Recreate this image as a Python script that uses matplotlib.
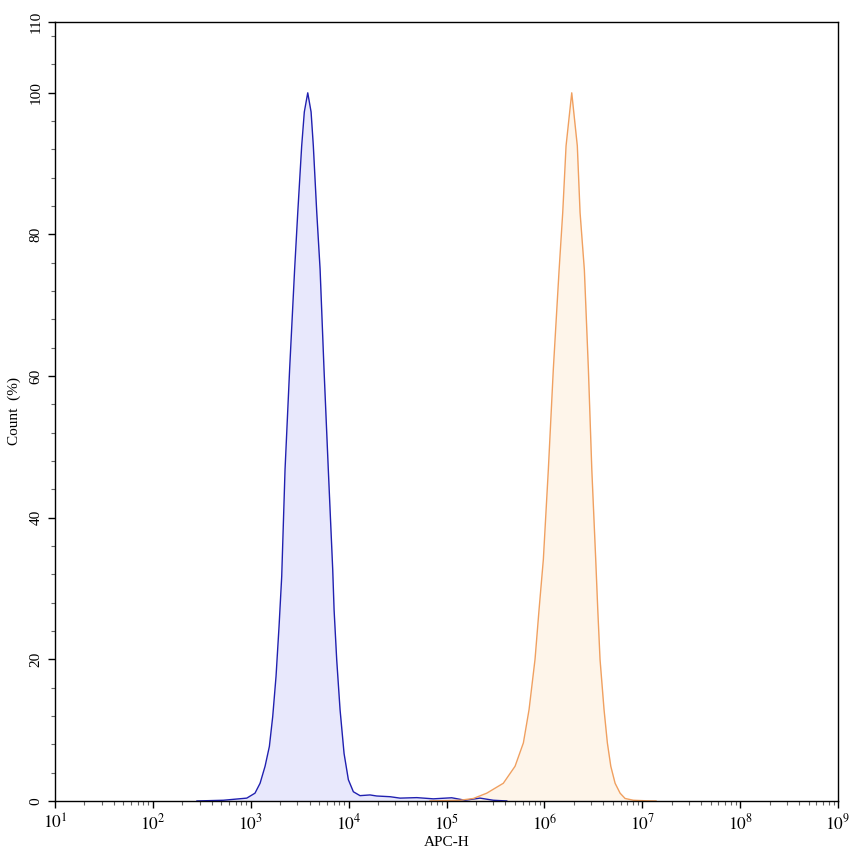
import matplotlib
matplotlib.use('Agg')
import matplotlib.pyplot as plt
import numpy as np
from matplotlib.ticker import LogLocator, MultipleLocator, FixedLocator

plt.rcParams['font.family'] = ['Liberation Serif', 'DejaVu Serif']
plt.rcParams['mathtext.fontset'] = 'stix'

## blue histogram (log10 of APC-H, count %)
blue_log = [2.45, 2.72, 2.959, 3.043, 3.095, 3.146, 3.19, 3.224, 3.258, 3.289,
            3.316, 3.35, 3.397, 3.448, 3.48, 3.52, 3.547, 3.582, 3.616, 3.639,
            3.674, 3.708, 3.748, 3.792, 3.837, 3.851, 3.878, 3.912, 3.953, 3.997,
            4.048, 4.116, 4.218, 4.287, 4.423, 4.525, 4.696, 4.865, 5.053, 5.189,
            5.342, 5.478, 5.615]
blue_cnt = [0, 0.1, 0.4, 1.1, 2.5, 4.9, 7.7, 11.9, 17.6, 24.7,
            31.7, 46.8, 61, 75.1, 83.1, 92.5, 97.3, 100, 97.3, 92.5,
            83.1, 75.1, 61, 46.8, 32.7, 27, 19.9, 12.9, 6.7, 3.0,
            1.3, 0.75, 0.85, 0.7, 0.6, 0.4, 0.47, 0.3, 0.45, 0.1,
            0.4, 0.1, 0]

## orange histogram
orange_log = [4.831, 5.138, 5.274, 5.411, 5.58, 5.7, 5.785, 5.843, 5.904, 5.945,
              5.989, 6.04, 6.091, 6.15, 6.187, 6.221, 6.279, 6.336, 6.364, 6.408,
              6.449, 6.484, 6.524, 6.545, 6.568, 6.609, 6.643, 6.678, 6.722, 6.773,
              6.824, 6.909, 7.05, 7.14]
orange_cnt = [0, 0.1, 0.35, 1.1, 2.5, 4.9, 8.2, 12.9, 20, 27,
              34.1, 46.8, 61, 75, 83.1, 92.5, 100, 92.5, 83.1, 75,
              61, 46.8, 34.1, 27, 20, 12.9, 8.2, 4.9, 2.5, 1.1,
              0.35, 0.1, 0.02, 0]

y_major = [0, 20, 40, 60, 80, 100, 110]

fig = plt.figure(figsize=(8.53, 8.56), dpi=100)
ax = fig.add_axes([0.0645, 0.0643, 0.918, 0.910])

bx = 10 ** np.array(blue_log)
ox = 10 ** np.array(orange_log)
ax.fill_between(bx, blue_cnt, 0, color='#e8e8fc', lw=0)
ax.plot(bx, blue_cnt, color='#2020b0', lw=1.0)
ax.fill_between(ox, orange_cnt, 0, color='#fef5ea', lw=0)
ax.plot(ox, orange_cnt, color='#f0a060', lw=1.0)

ax.set_xscale('log')
ax.set_xlim(1e1, 1e9)
ax.set_ylim(0, 110)
ax.xaxis.set_major_locator(LogLocator(base=10, numticks=20))
ax.xaxis.set_minor_locator(LogLocator(base=10, subs=np.arange(2, 10), numticks=100))
ax.xaxis.set_major_formatter(matplotlib.ticker.FuncFormatter(lambda v, p: '$10^{%d}$' % round(np.log10(v))))
ax.yaxis.set_major_locator(FixedLocator(y_major))
ax.yaxis.set_minor_locator(MultipleLocator(4))

ax.tick_params(axis='x', which='major', direction='out', length=5, width=1, labelsize=12.5, pad=4)
ax.tick_params(axis='y', which='major', direction='out', length=5, width=1, labelsize=11, pad=4)
ax.tick_params(axis='both', which='minor', direction='out', length=3, width=0.8, color='#666666')
for lab in ax.get_yticklabels():
    lab.set_rotation(90)
    lab.set_va('center')
for s in ax.spines.values():
    s.set_linewidth(1.0)

ax.set_xlabel('APC-H', fontsize=11, labelpad=2)
ax.set_ylabel('Count  (%)', fontsize=11, labelpad=6)

fig.savefig('out.png', dpi=100)
